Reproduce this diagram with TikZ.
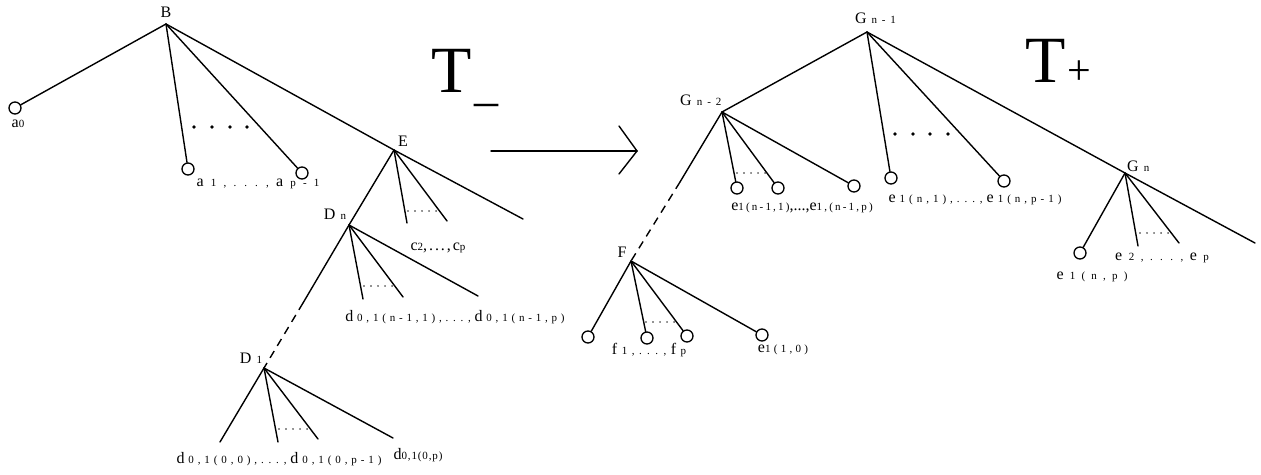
\documentclass[tikz,border=0pt]{standalone}
\usepackage{fontspec}
\setmainfont{Liberation Serif}
\newcommand{\mn}{\fontsize{16}{16}\selectfont}
\newcommand{\sms}[2][4pt]{{\fontsize{11}{11}\selectfont\spaceskip=#1\relax #2}}
\newcommand{\lsx}[2][15]{{\fontsize{11}{11}\selectfont\addfontfeature{LetterSpace=#1}#2}}
\tikzset{
  edge/.style={line width=1.4pt, line cap=round},
  dashedge/.style={line width=1.4pt, dash pattern=on 8pt off 6pt},
  leaf/.style={circle, draw, line width=1.3pt, fill=white, minimum size=12pt, inner sep=0pt},
  lab/.style={inner sep=0pt, font=\mn},
  smalldots/.style={line width=1.4pt, dash pattern=on 0.01pt off 7pt, line cap=round},
  bigdot/.style={fill=black},
}
\begin{document}
\begin{tikzpicture}[x=1pt,y=-1pt]
\useasboundingbox (0,0) rectangle (1261,474);
% ---------- left tree ----------
\coordinate (B) at (166,24);
\node[leaf] (a0) at (15,108) {};
\node[leaf] (a1) at (188,169) {};
\node[leaf] (ap) at (302,173) {};
\coordinate (E) at (394,150);
\coordinate (Eend) at (523,219);
\coordinate (Ec1) at (407,223);
\coordinate (Ec2) at (447,221);
\coordinate (Dn) at (349,225);
\coordinate (Dnc1) at (363,299);
\coordinate (Dnc2) at (403,297);
\coordinate (Dnc3) at (478,296);
\coordinate (Dnb) at (303,303);
\coordinate (D1) at (264,368);
\coordinate (D1c1) at (220,442);
\coordinate (D1c2) at (278,442);
\coordinate (D1c3) at (318,439);
\coordinate (D1c4) at (393,438);

\draw[edge] (B) -- (a0);
\draw[edge] (B) -- (a1);
\draw[edge] (B) -- (ap);
\draw[edge] (B) -- (E) -- (Eend);
\draw[edge] (E) -- (Ec1);
\draw[edge] (E) -- (Ec2);
\draw[edge] (E) -- (Dn);
\draw[edge] (Dn) -- (Dnc1);
\draw[edge] (Dn) -- (Dnc2);
\draw[edge] (Dn) -- (Dnc3);
\draw[edge] (Dn) -- (Dnb);
\draw[dashedge] (Dnb) -- (D1);
\draw[edge] (D1) -- (D1c1);
\draw[edge] (D1) -- (D1c2);
\draw[edge] (D1) -- (D1c3);
\draw[edge] (D1) -- (D1c4);

\foreach \x in {194,212,230,247} \fill[bigdot] (\x,127) circle (1.8pt);
\draw[smalldots] (408,211) -- (437,211);
\draw[smalldots] (364,286) -- (395,286);
\draw[smalldots] (279,429) -- (313,429);

\node[lab] (lB) at (166,12) {B};
\node[lab] (la0) at (18,124) {a\lsx[0]{0}};
\node[lab] (la1) at (258,184) {a\sms[7.2pt]{ 1 , . . . , }a\sms[7.2pt]{ p - 1}};
\node[lab] (lE) at (403,141) {E};
\node[lab] (lDn) at (335,214) {D\sms[5pt]{ n}};
\node[lab] (lc) at (438,248) {\addfontfeature{LetterSpace=12}c\lsx[12]{2},...,c\lsx[12]{p}};
\node[lab] (ld1) at (455,317) {d\sms[3.8pt]{ 0 , 1 ( n - 1 , 1 ) , . . . , }d\sms[3.8pt]{ 0 , 1 ( n - 1 , p )}};
\node[lab] (lD1) at (251,358) {D\sms[5pt]{ 1}};
\node[lab] (ld0) at (279,459) {d\sms[3.9pt]{ 0 , 1 ( 0 , 0 ) , . . . , }d\sms[3.9pt]{ 0 , 1 ( 0 , p - 1 )}};
\node[lab] (ld0p) at (418,455) {d\lsx[8]{0,1(0,p)}};

\node[inner sep=0pt, anchor=base west] (Tm) at (431,92)
  {\fontsize{66}{66}\selectfont T\hspace{3pt}\raisebox{-8pt}{\fontsize{48}{48}\selectfont\_}};

% ---------- arrow ----------
\coordinate (A1) at (491,151);
\coordinate (A2) at (637,151);
\coordinate (A3) at (619,126);
\coordinate (A4) at (619,174);
\draw[edge] (A1) -- (A2);
\draw[edge, line join=miter] (A3) -- (A2) -- (A4);

% ---------- right tree ----------
\coordinate (G1) at (867,32);
\coordinate (G2) at (722,112);
\coordinate (Gn) at (1125,173);
\coordinate (Gend) at (1255,243);
\node[leaf] (e1) at (737,188) {};
\node[leaf] (e2) at (778,188) {};
\node[leaf] (e3) at (854,186) {};
\node[leaf] (e4) at (891,178) {};
\node[leaf] (e5) at (1004,181) {};
\node[leaf] (e6) at (1080,253) {};
\coordinate (Gnc2) at (1138,246);
\coordinate (Gnc3) at (1179,243);
\coordinate (G2b) at (680,182);
\coordinate (F) at (631,261);
\node[leaf] (f1) at (588,337) {};
\node[leaf] (f2) at (647,338) {};
\node[leaf] (f3) at (687,336) {};
\node[leaf] (f4) at (762,335) {};

\draw[edge] (G1) -- (G2);
\draw[edge] (G1) -- (e4);
\draw[edge] (G1) -- (e5);
\draw[edge] (G1) -- (Gn) -- (Gend);
\draw[edge] (G2) -- (e1);
\draw[edge] (G2) -- (e2);
\draw[edge] (G2) -- (e3);
\draw[edge] (G2) -- (G2b);
\draw[dashedge] (G2b) -- (F);
\draw[edge] (Gn) -- (e6);
\draw[edge] (Gn) -- (Gnc2);
\draw[edge] (Gn) -- (Gnc3);
\draw[edge] (F) -- (f1);
\draw[edge] (F) -- (f2);
\draw[edge] (F) -- (f3);
\draw[edge] (F) -- (f4);

\foreach \x in {895,913,930,948} \fill[bigdot] (\x,134) circle (1.8pt);
\draw[smalldots] (737,173) -- (767,173);
\draw[smalldots] (1140,233) -- (1170,233);
\draw[smalldots] (646,322) -- (676,322);

\node[lab, anchor=west] (lG1) at (855,18) {G\sms[4.8pt]{ n - 1}};
\node[lab, anchor=west] (lG2) at (680,100) {G\sms[5pt]{ n - 2}};
\node[lab, anchor=west] (lGn) at (1127,166) {G\sms[5pt]{ n}};
\node[lab] (le1) at (802,208) {e\lsx[20]{1(n-1,1)},...,e\lsx[20]{1,(n-1,p)}};
\node[lab] (le2) at (975,200) {e\sms[4pt]{ 1 ( n , 1 ) , . . . , }e\sms[4pt]{ 1 ( n , p - 1 )}};
\node[lab] (le3) at (1162,258) {e\sms[6.5pt]{ 2 , . . . , }e\sms[6.5pt]{ p}};
\node[lab] (le4) at (1092,277) {e\sms[6.2pt]{ 1 ( n , p )}};
\node[lab] (lF) at (622,252) {F};
\node[lab] (lf) at (649,350) {f\sms[4.5pt]{ 1 , . . . , }f\sms[4.5pt]{ p}};
\node[lab] (le5) at (783,350) {e\lsx[30]{1(1,0)}};

\node[inner sep=0pt, anchor=base west] (Tp) at (1025,82)
  {\fontsize{66}{66}\selectfont T\hspace{2pt}\raisebox{-2pt}{\fontsize{42}{42}\selectfont +}};
\end{tikzpicture}
\end{document}
